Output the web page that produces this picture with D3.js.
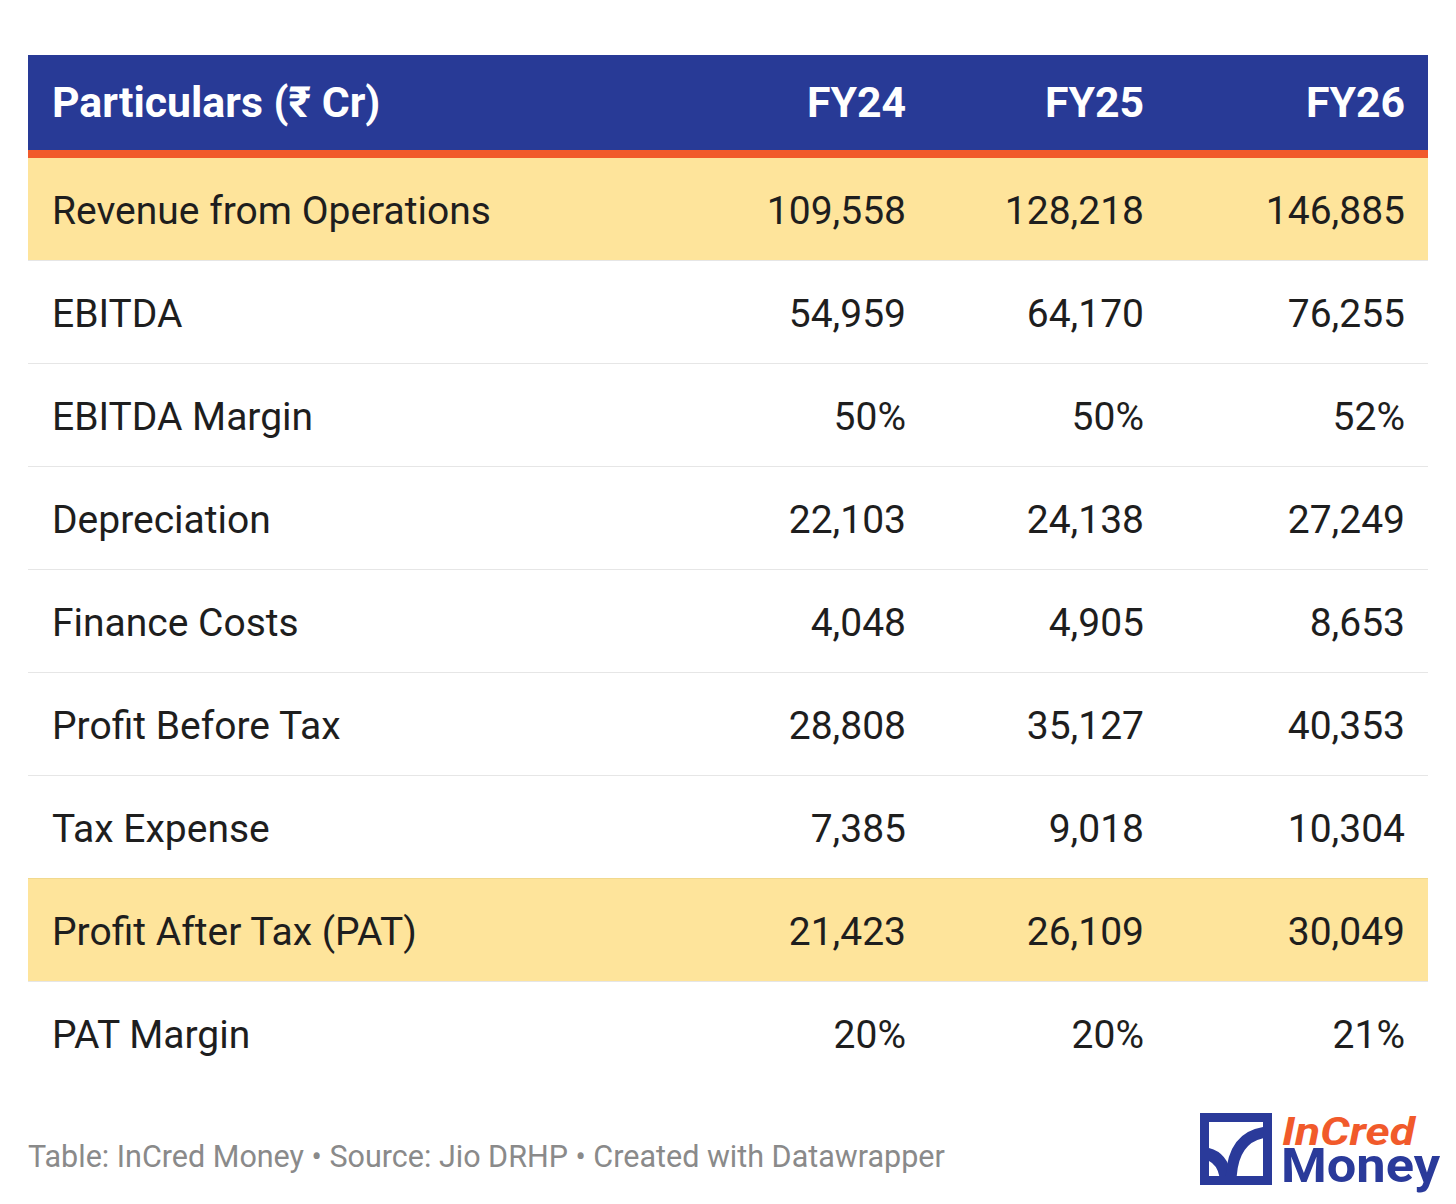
<!DOCTYPE html>
<html>
<head>
<meta charset="utf-8">
<script src="https://cdn.jsdelivr.net/npm/d3@7"></script>
<style>
  body { margin: 0; background: #fff; }
  svg text { font-family: Roboto, "Noto Sans", sans-serif; }
</style>
</head>
<body>
<div id="table"></div>
<script>
// table data
const columns = ['FY24', 'FY25', 'FY26'];
const particulars = ['Revenue from Operations', 'EBITDA', 'EBITDA Margin', 'Depreciation',
  'Finance Costs', 'Profit Before Tax', 'Tax Expense', 'Profit After Tax (PAT)', 'PAT Margin'];
const fy24 = [109558, 54959, 50, 22103, 4048, 28808, 7385, 21423, 20];
const fy25 = [128218, 64170, 50, 24138, 4905, 35127, 9018, 26109, 20];
const fy26 = [146885, 76255, 52, 27249, 8653, 40353, 10304, 30049, 21];
const percentRows = ['EBITDA Margin', 'PAT Margin'];
const highlightRows = ['Revenue from Operations', 'Profit After Tax (PAT)'];
const headerLabel = 'Particulars (₹ Cr)';
const footer = 'Table: InCred Money • Source: Jio DRHP • Created with Datawrapper';

function drawTable() {
  let width = 1456;
  let height = 1204;
  let left = 28, right = 1428;
  let headTop = 55, headBottom = 150, accent = 8;
  let rowH = 103;

  let rows = particulars.map((p, i) => ({
    name: p,
    values: [fy24[i], fy25[i], fy26[i]],
    pct: percentRows.indexOf(p) != -1,
    highlight: highlightRows.indexOf(p) != -1
  }));

  let svg = d3.select('#table')
    .append('svg')
    .attr('width', width)
    .attr('height', height);

  // scales
  let yScale = d3.scaleBand()
    .domain(particulars)
    .range([headBottom + accent, headBottom + accent + rowH * particulars.length]);
  let xScale = d3.scaleOrdinal()
    .domain(columns)
    .range([906, 1144, 1405]);
  let fmt = d3.format(',');

  // header
  svg.append('rect')
    .attr('x', left)
    .attr('y', headTop)
    .attr('width', right - left)
    .attr('height', headBottom - headTop)
    .attr('fill', '#283a96');
  svg.append('rect')
    .attr('x', left)
    .attr('y', headBottom)
    .attr('width', right - left)
    .attr('height', accent)
    .attr('fill', '#f15a2b');
  svg.append('text')
    .attr('x', 52)
    .attr('y', 117)
    .attr('fill', '#fff')
    .attr('font-size', '42.8px')
    .attr('font-weight', 'bold')
    .text(headerLabel);
  svg.selectAll('.colhead')
    .data(columns)
    .enter()
    .append('text')
    .attr('class', 'colhead')
    .attr('x', d => xScale(d))
    .attr('y', 117)
    .attr('text-anchor', 'end')
    .attr('fill', '#fff')
    .attr('font-size', '42.8px')
    .attr('font-weight', 'bold')
    .text(d => d);

  // rows
  let row = svg.selectAll('.row')
    .data(rows)
    .enter()
    .append('g')
    .attr('class', 'row')
    .attr('transform', d => 'translate(0,' + yScale(d.name) + ')');

  row.append('rect')
    .attr('x', left)
    .attr('width', right - left)
    .attr('height', yScale.bandwidth())
    .attr('fill', d => d.highlight ? '#fee49b' : '#fff');

  // row borders (not under the last row)
  row.filter((d, i) => i < rows.length - 1)
    .append('rect')
    .attr('x', left)
    .attr('y', yScale.bandwidth() - 1)
    .attr('width', right - left)
    .attr('height', 2.5)
    .attr('fill', (d, i) => rows[i + 1].highlight ? '#f1d98e' : '#e6e6e6');

  row.append('text')
    .attr('x', 52)
    .attr('y', yScale.bandwidth() / 2 + 14)
    .attr('font-size', '39px')
    .attr('fill', '#1e1e1e')
    .text(d => d.name);

  row.selectAll('.val')
    .data(d => d.values.map((v, j) => ({ col: columns[j], v: v, pct: d.pct })))
    .enter()
    .append('text')
    .attr('class', 'val')
    .attr('x', d => xScale(d.col))
    .attr('y', yScale.bandwidth() / 2 + 14)
    .attr('text-anchor', 'end')
    .attr('font-size', '39px')
    .attr('fill', '#1e1e1e')
    .text(d => d.pct ? d.v + '%' : fmt(d.v));

  // footer
  svg.append('text')
    .attr('x', 28)
    .attr('y', 1167)
    .attr('font-size', '30.5px')
    .attr('fill', '#8a8a8a')
    .text(footer);

  // logo
  let logo = svg.append('g')
    .attr('transform', 'translate(1200,1113)');
  logo.append('clipPath')
    .attr('id', 'logoClip')
    .append('rect')
    .attr('x', 9).attr('y', 9)
    .attr('width', 54).attr('height', 54);
  logo.append('rect')
    .attr('x', 4.5).attr('y', 4.5)
    .attr('width', 63).attr('height', 63)
    .attr('fill', '#fff')
    .attr('stroke', '#2a3a9a')
    .attr('stroke-width', 9);
  let arcs = logo.append('g').attr('clip-path', 'url(#logoClip)');
  arcs.append('path')
    .attr('d', 'M2,40 Q24,42 26,68')
    .attr('fill', 'none')
    .attr('stroke', '#2a3a9a')
    .attr('stroke-width', 12);
  arcs.append('path')
    .attr('d', 'M31,68 Q32,22 68,19')
    .attr('fill', 'none')
    .attr('stroke', '#2a3a9a')
    .attr('stroke-width', 11);

  let brand = svg.append('text')
    .attr('font-weight', 'bold');
  brand.append('tspan')
    .attr('x', 1282)
    .attr('y', 1145)
    .attr('font-size', '38px')
    .attr('font-style', 'italic')
    .attr('fill', '#f15a2b')
    .attr('textLength', 133)
    .attr('lengthAdjust', 'spacingAndGlyphs')
    .text('InCred');
  brand.append('tspan')
    .attr('x', 1281)
    .attr('y', 1182)
    .attr('font-size', '49px')
    .attr('fill', '#2a3a9a')
    .attr('textLength', 159)
    .attr('lengthAdjust', 'spacingAndGlyphs')
    .text('Money');
}

drawTable();
</script>
</body>
</html>
